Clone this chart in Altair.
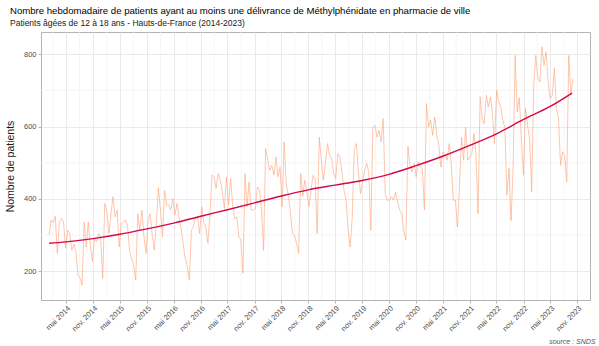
import altair as alt
import pandas as pd

FONT = "Liberation Sans"

# weekly-ish series (read every ~2 weeks from the picture), starting early January 2014
start_date = "2014-01-06"
seg_2014_2015 = [300, 341, 334, 352, 249, 336, 346, 336, 263, 313, 304, 258, 275, 253, 189,
                 180, 161, 336, 267, 336, 272, 226, 290, 281, 304, 290, 180, 387, 364, 304,
                 359, 406, 350, 369, 267, 332, 336, 341, 327, 258, 235, 217, 175]
seg_2015_2017 = [359, 313, 369, 295, 249, 341, 359, 300, 258, 332, 431, 369, 295, 424, 383,
                 383, 369, 401, 355, 387, 350, 318, 277, 235, 212, 175, 313, 323, 350, 350,
                 304, 378, 336, 323, 277, 359, 466, 461, 429, 470, 452, 419, 373]
seg_2017_2018 = [461, 383, 456, 383, 346, 350, 295, 286, 194, 470, 378, 447, 369, 369, 373,
                 433, 424, 369, 258, 539, 507, 479, 493, 466, 516, 461, 488, 378, 558, 442,
                 410, 364, 304, 300, 277, 249, 470, 410, 452, 419, 378, 424, 465, 452]
seg_2018_2020 = [304, 571, 507, 452, 498, 553, 521, 512, 470, 456, 525, 516, 475, 424, 396,
                 313, 267, 350, 539, 553, 475, 415, 447, 479, 498, 475, 313, 599, 604, 571,
                 590, 558, 622, 415, 396, 396, 406, 396, 419, 392, 369, 359, 309, 286]
seg_2020_2022 = [545, 493, 475, 498, 461, 502, 488, 484, 369, 664, 599, 618, 576, 627, 576,
                 548, 488, 530, 525, 507, 553, 498, 396, 396, 322, 433, 571, 507, 599, 507,
                 516, 525, 581, 521, 359, 682, 622, 608, 687, 654, 682, 636, 553]
seg_2022_2023 = [701, 668, 655, 618, 599, 410, 484, 340, 484, 797, 640, 680, 567, 465, 650,
                 604, 567, 420, 714, 797, 733, 724, 821, 770, 807, 724, 678, 687, 761, 650,
                 622, 493, 530, 521, 447, 797, 687, 733]

values = seg_2014_2015 + seg_2015_2017 + seg_2017_2018 + seg_2018_2020 + seg_2020_2022 + seg_2022_2023
dates = pd.date_range(start_date, periods=len(values), freq="14D")

# smoothed trend
trend_dates = ["2014-01-06", "2014-05-01", "2014-11-01", "2015-05-01", "2015-11-01",
               "2016-05-01", "2016-11-01", "2017-05-01", "2017-11-01", "2018-05-01",
               "2018-11-01", "2019-05-01", "2019-11-01", "2020-05-01", "2020-11-01",
               "2021-05-01", "2021-11-01", "2022-05-01", "2022-11-01", "2023-05-01",
               "2023-09-26"]
trend_values = [277, 281, 290, 302, 317, 333, 352, 370, 389, 408, 425, 438, 451, 468,
                492, 518, 548, 580, 620, 656, 693]

years = list(range(2014, 2024))
major_months = [5, 11]
minor_months = [2, 8]
y_major = [200, 400, 600, 800]
y_minor = [300, 500, 700]

df = pd.DataFrame({"date": dates, "n": values})
trend_df = pd.DataFrame({"date": pd.to_datetime(trend_dates), "n": trend_values})
major_x = [alt.DateTime(year=y, month=m, date=1) for y in years for m in major_months]
minor_x_df = pd.DataFrame({"date": pd.to_datetime([f"{y}-{m:02d}-01" for y in years for m in minor_months])})
minor_y_df = pd.DataFrame({"n": y_minor})

x_scale = alt.Scale(domain=[alt.DateTime(year=2013, month=11, date=12),
                            alt.DateTime(year=2024, month=1, date=26)])
y_scale = alt.Scale(domain=[120, 862], zero=False, nice=False)

x_axis = alt.Axis(
    values=major_x,
    labelExpr="(month(datum.value) == 4 ? 'mai ' : 'nov. ') + year(datum.value)",
    labelAngle=315, labelAlign="right", labelBaseline="top",
    labelFontSize=7.5, labelColor="#4D4D4D", labelPadding=1,
    tickColor="#B3B3B3", tickSize=3, domain=False,
    gridColor="#E4E4E4", gridWidth=0.8, labelOverlap=False,
    title="source : SNDS", titleFontStyle="italic", titleFontSize=7,
    titleFontWeight="normal", titleColor="#555555",
    titleAnchor="end", titleAlign="right", titleX=554, titleY=43,
    titleBaseline="alphabetic",
)
y_axis = alt.Axis(
    values=y_major, labelFontSize=7.5, labelColor="#4D4D4D", labelPadding=2,
    tickColor="#B3B3B3", tickSize=3, domain=False,
    gridColor="#E4E4E4", gridWidth=0.8,
    title="Nombre de patients", titleFontSize=10.5, titleFontWeight="normal",
    titleColor="#1A1A1A", titleX=-31, titleY=134, titleAngle=270,
    titleAlign="center", titleBaseline="middle",
)

minor_x_rules = alt.Chart(minor_x_df).mark_rule(color="#F0F0F0", strokeWidth=0.6).encode(
    x=alt.X("date:T", scale=x_scale, axis=x_axis)
)
minor_y_rules = alt.Chart(minor_y_df).mark_rule(color="#F0F0F0", strokeWidth=0.6).encode(
    y=alt.Y("n:Q", scale=y_scale, axis=y_axis)
)
series = alt.Chart(df).mark_line(color="#FDA57C", strokeWidth=0.8, opacity=0.8).encode(
    x=alt.X("date:T", scale=x_scale, axis=x_axis),
    y=alt.Y("n:Q", scale=y_scale, axis=y_axis),
)
trend = alt.Chart(trend_df).mark_line(color="#D2094E", strokeWidth=1.4, interpolate="monotone").encode(
    x=alt.X("date:T", scale=x_scale, axis=x_axis),
    y=alt.Y("n:Q", scale=y_scale, axis=y_axis),
)

chart = alt.layer(minor_x_rules, minor_y_rules, series, trend).properties(
    width=549, height=268,
    autosize=alt.AutoSizeParams(type="none"),
    padding={"left": 41, "top": 32, "right": 9, "bottom": 46},
    title=alt.TitleParams(
        text="Nombre hebdomadaire de patients ayant au moins une délivrance de Méthylphénidate en pharmacie de ville",
        subtitle="Patients âgées de 12 à 18 ans - Hauts-de-France (2014-2023)",
        anchor="start", frame="group", dx=-31, offset=4,
        fontSize=9.6, fontWeight="normal", color="#000000",
        subtitleFontSize=8.5, subtitleColor="#1A1A1A", subtitlePadding=4,
    ),
).configure(font=FONT, background="white").configure_view(stroke="#B3B3B3", strokeWidth=1)

chart.save("out.html", embed_options={"renderer": "svg", "actions": False})
